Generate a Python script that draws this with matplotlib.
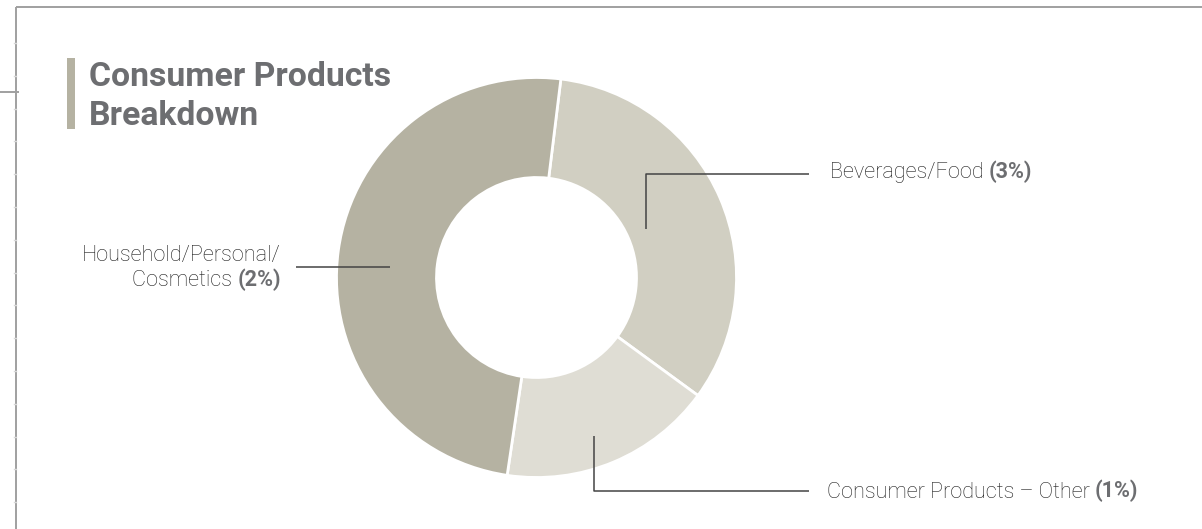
import numpy as np
import matplotlib
matplotlib.use("Agg")
import matplotlib.pyplot as plt
from matplotlib.patches import Rectangle

# slice shares (clockwise from the top)
categories = ["Beverages/Food", "Consumer Products \u2013 Other", "Household/Personal/\nCosmetics"]
shares = [33.1, 17.3, 49.6]
pct_labels = ["(3%)", "(1%)", "(2%)"]
colors = ["#d1cfc2", "#dfddd4", "#b5b2a2"]

title_lines = ["Consumer Products", "Breakdown"]

W, H = 1202, 529
fig = plt.figure(figsize=(W / 100, H / 100), dpi=100)
ax = fig.add_axes([0, 0, 1, 1])

cx, cy, R = 536.5, 277.5, 200
# y axis runs downwards, so data angles are mirrored on screen
wedges, _ = ax.pie(shares, colors=colors, startangle=-83, counterclock=True,
                   radius=R, center=(cx, cy),
                   wedgeprops=dict(width=R * 0.5, edgecolor="white", linewidth=2))

ax.set_xlim(0, W)
ax.set_ylim(H, 0)
ax.set_aspect("equal")
ax.axis("off")

# frame around the panel
frame_col = "#a0a0a0"
ax.plot([16, 16], [7, H], color=frame_col, lw=1.4, solid_capstyle="butt")
ax.plot([16, W], [7, 7], color=frame_col, lw=1.4, solid_capstyle="butt")
ax.plot([0, 19], [92, 92], color=frame_col, lw=1.4, solid_capstyle="butt")
for ty in np.arange(43, H, 32.8):
    ax.plot([14, 16], [ty, ty], color="#d8d8d8", lw=1)

# title with bar
ax.add_patch(Rectangle((67, 58), 8, 71, color="#b5b2a2", lw=0))
tfont = dict(family=["Roboto", "DejaVu Sans"], weight="bold", size=24.3, color="#6d6e71")
ax.text(89, 86, title_lines[0], va="baseline", ha="left", **tfont)
ax.text(89, 125, title_lines[1], va="baseline", ha="left", **tfont)

lfont = dict(family=["Roboto", "DejaVu Sans"], weight="light", size=15.6, color="#1e1e1e")
bfont = dict(family=["Roboto", "DejaVu Sans"], weight="bold", size=15.6, color="#6d6e71")
line_kw = dict(color="#444444", lw=1.1, solid_capstyle="butt")

def anchor(w, r, dtheta=0):
    # point inside a wedge, along its middle angle
    mid = np.deg2rad((w.theta1 + w.theta2) / 2 + dtheta)
    return cx + r * np.cos(mid), cy + r * np.sin(mid)

renderer = fig.canvas.get_renderer()

# Beverages/Food
ax0, ay0 = anchor(wedges[0], 120, -0.5)
ax.plot([ax0, ax0, 809], [ay0, 174, 174], **line_kw)
t = ax.text(830, 178, categories[0] + " ", va="baseline", ha="left", **lfont)
bb = t.get_window_extent(renderer)
ax.text(bb.x1, 178, pct_labels[0], va="baseline", ha="left", **bfont)

# Consumer Products - Other
ax1, ay1 = anchor(wedges[1], 169, 2.7)
ax.plot([ax1, ax1, 809], [ay1, 491, 491], **line_kw)
t = ax.text(827, 497.5, categories[1] + " ", va="baseline", ha="left", **lfont)
bb = t.get_window_extent(renderer)
ax.text(bb.x1, 497.5, pct_labels[1], va="baseline", ha="left", **bfont)

# Household/Personal/Cosmetics
ax2, ay2 = anchor(wedges[2], 147, -3.6)
ax.plot([296, ax2], [ay2, ay2], **line_kw)
first, second = categories[2].split("\n")
ax.text(281, 261, first, va="baseline", ha="right", **lfont)
t = ax.text(281, 286, pct_labels[2], va="baseline", ha="right", **bfont)
bb = t.get_window_extent(renderer)
ax.text(bb.x0, 286, second + " ", va="baseline", ha="right", **lfont)

fig.savefig("out.png", dpi=100, facecolor="white")
